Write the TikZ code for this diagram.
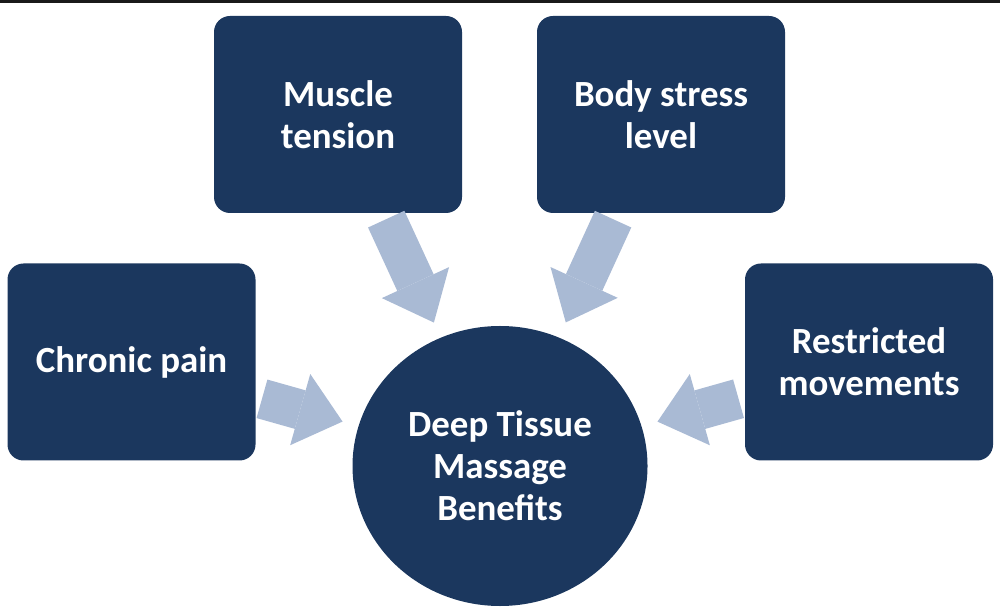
\documentclass[tikz,border=0pt]{standalone}
\usepackage{fontspec}
\setmainfont{Carlito}
\usetikzlibrary{arrows.meta,shapes.geometric}
\definecolor{boxblue}{HTML}{1B375E}
\definecolor{arrowblue}{HTML}{A9BAD4}
\tikzset{
every node/.style={text=white, font=\bfseries\fontsize{10.5}{12}\selectfont, align=center},
topic/.style={rectangle, rounded corners=0.16cm, fill=boxblue, minimum width=2.48cm, minimum height=1.97cm},
hub/.style={ellipse, fill=boxblue, minimum width=2.95cm, minimum height=2.8cm},
fatarrow/.style={draw=arrowblue, line width=0.4cm, -{Triangle[length=0.44cm, width=0.74cm, line width=0pt]}, shorten <=0.06cm, shorten >=0.16cm}
}

\begin{document}
\begin{tikzpicture}
\useasboundingbox (0,0) rectangle (10,-6.16);
\fill[black!90] (0,0) rectangle (10,-0.03);

\node [topic] (tension) at (3.38,-1.145) {Muscle\\tension};
\node [topic] (stress) at (6.61,-1.145) {Body stress\\level};
\node [topic] (pain) at (1.315,-3.62) {Chronic pain};
\node [topic] (moves) at (8.69,-3.62) {Restricted\\movements};
\node [hub] (benefits) at (5.0,-4.66) {Deep Tissue\\Massage\\Benefits};

\draw [fatarrow] (tension) -- (benefits);
\draw [fatarrow] (stress) -- (benefits);
\draw [fatarrow] (pain) -- (benefits);
\draw [fatarrow] (moves) -- (benefits);
\end{tikzpicture}
\end{document}
